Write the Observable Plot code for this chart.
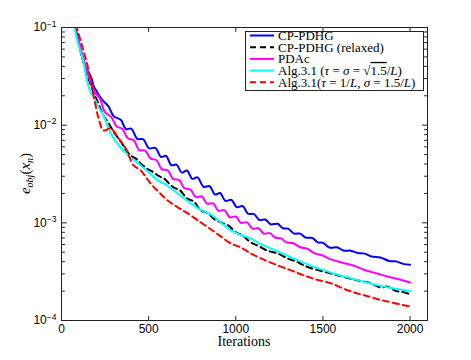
<!DOCTYPE html>
<html><head><meta charset="utf-8">
<script src="https://cdn.jsdelivr.net/npm/d3@7"></script>
<script src="https://cdn.jsdelivr.net/npm/@observablehq/plot@0.6"></script>
<style>html,body{margin:0;padding:0;background:#fff}</style>
</head><body><div id="chart"></div>
<script>
// ---- data (iteration, objective error) ----
const cpPdhg = [[60,0.14],[80,0.098],[100,0.070],[120,0.050],[135,0.040],[150,0.036],[170,0.031],[185,0.025],[200,0.0225],[230,0.0185],[270,0.0155],[300,0.0123],[340,0.01135],[370,0.00912],[400,0.00923],[435,0.00724],[470,0.00716],[500,0.00582],[540,0.00582],[570,0.00473],[600,0.00484],[630,0.00389],[660,0.00394],[690,0.00327],[720,0.00343],[750,0.00282],[780,0.00292],[815,0.00234],[850,0.00237],[880,0.00195],[910,0.00202],[940,0.00168],[975,0.00172],[1005,0.00145],[1040,0.00148],[1070,0.00124],[1105,0.00123],[1135,0.00107],[1170,0.00108],[1200,0.000966],[1240,0.000977],[1270,0.000881],[1300,0.000871],[1335,0.000776],[1370,0.000776],[1400,0.000708],[1440,0.0007],[1470,0.000631],[1500,0.000624],[1540,0.000556],[1580,0.000562],[1620,0.000519],[1660,0.000519],[1700,0.00049],[1740,0.000484],[1780,0.000452],[1830,0.000442],[1880,0.000407],[1920,0.000403],[1960,0.00038],[2000,0.000372]];
const cpPdhgRelaxed = [[60,0.15],[80,0.098],[92,0.077],[120,0.048],[149,0.0323],[184,0.0216],[210,0.017],[241,0.0126],[270,0.0105],[300,0.0085],[340,0.0068],[370,0.0056],[397,0.0049],[430,0.0045],[454,0.00405],[490,0.0036],[529,0.00328],[560,0.0030],[590,0.00283],[620,0.0025],[644,0.0023],[680,0.00215],[720,0.00178],[760,0.00165],[799,0.00134],[840,0.00125],[880,0.00108],[920,0.0010],[960,0.00093],[1000,0.0008],[1040,0.00074],[1086,0.00063],[1130,0.00058],[1180,0.00052],[1241,0.000486],[1300,0.00043],[1350,0.0004],[1391,0.000366],[1450,0.000336],[1500,0.000318],[1546,0.000303],[1600,0.000285],[1650,0.00027],[1701,0.000257],[1760,0.000245],[1833,0.000218],[1870,0.000222],[1920,0.0002],[1960,0.000196],[2000,0.000185]];
const pdac = [[60,0.14],[80,0.095],[100,0.070],[126,0.048],[150,0.034],[167,0.0274],[190,0.0219],[220,0.0188],[250,0.0135],[285,0.01216],[315,0.00977],[350,0.00912],[380,0.00733],[415,0.0070],[445,0.00556],[480,0.0055],[510,0.00457],[545,0.00437],[575,0.00355],[610,0.00343],[640,0.00282],[675,0.00275],[705,0.00226],[740,0.00219],[770,0.00184],[805,0.00186],[835,0.00157],[870,0.00158],[900,0.00133],[935,0.00135],[965,0.00114],[1000,0.00116],[1030,0.001],[1065,0.00101],[1095,0.000871],[1130,0.000881],[1160,0.000776],[1195,0.000785],[1225,0.000708],[1260,0.000692],[1290,0.000631],[1330,0.000617],[1370,0.000562],[1410,0.000543],[1450,0.00049],[1500,0.000462],[1546,0.000422],[1600,0.000394],[1661,0.000372],[1700,0.000351],[1736,0.000331],[1780,0.000313],[1833,0.000295],[1880,0.000279],[1940,0.000263],[2000,0.000245]];
const algSqrt = [[60,0.15],[80,0.0889],[100,0.064],[121,0.0482],[149,0.0274],[167,0.0216],[185,0.0195],[207,0.0159],[241,0.01256],[260,0.0103],[282,0.00822],[310,0.0069],[339,0.00591],[370,0.0052],[397,0.00467],[425,0.00425],[454,0.00387],[500,0.0033],[552,0.00272],[600,0.00245],[644,0.00215],[700,0.0018],[759,0.00151],[800,0.00135],[856,0.00122],[914,0.00101],[971,0.000836],[1030,0.00075],[1086,0.000692],[1140,0.00061],[1201,0.000547],[1280,0.000475],[1356,0.000412],[1430,0.000365],[1506,0.000326],[1580,0.000296],[1661,0.00027],[1740,0.000248],[1816,0.000229],[1900,0.000214],[2000,0.000199]];
const algInvL = [[60,0.17],[80,0.112],[109,0.0736],[149,0.0408],[184,0.0201],[213,0.0117],[241,0.00883],[282,0.00925],[328,0.00731],[368,0.00578],[414,0.00387],[454,0.00344],[511,0.00253],[560,0.00205],[609,0.00169],[665,0.00145],[724,0.00125],[799,0.00101],[860,0.00085],[914,0.000726],[971,0.000615],[1029,0.00056],[1086,0.000486],[1150,0.000427],[1241,0.000366],[1320,0.000324],[1391,0.00029],[1460,0.000263],[1546,0.00024],[1640,0.000204],[1736,0.000181],[1860,0.000158],[2000,0.000139]];

const seriesData = [cpPdhg, cpPdhgRelaxed, pdac, algSqrt, algInvL];
const seriesColors = ["#0000ff", "#000000", "#ff00ff", "#00ffff", "#ff0000"];
const seriesDash = [null, "6,4", null, null, "6,4"];
// legend labels as [text, style] pieces
const legendLabels = [
  [["CP-PDHG", false]],
  [["CP-PDHG (relaxed)", false]],
  [["PDAc", false]],
  [["Alg.3.1 (", false], ["τ", true], [" = ", false], ["σ", true], [" = √", false], ["1.5", "over"], ["/", false], ["L", true], [")", false]],
  [["Alg.3.1(", false], ["τ", true], [" = 1/", false], ["L", true], [", ", false], ["σ", true], [" = 1.5/", false], ["L", true], [")", false]]
];
const xTicks = [0, 500, 1000, 1500, 2000];
const xDomain = [0, 2100];
const yDomain = [1e-4, 1e-1];
const yMajor = [1e-4, 1e-3, 1e-2, 1e-1];
const yMinor = [];
for (const p of [1e-4, 1e-3, 1e-2]) for (let m = 2; m <= 9; m++) yMinor.push(m * p);

const W = 471, H = 360, ML = 61, MR = 44, MT = 27, MB = 40;
// legend box placement (pixels)
const lgX = 245, lgY = 31, lgW = 178, lgH = 59, rowH = 11.7, row0 = 35.5;

// inward tick shape for vector marks
const tickShape = {draw(ctx, l) { ctx.moveTo(0, 0); ctx.lineTo(0, -l); }};
const inTicks = (data, ch, anchor, rotate, len) => Plot.vector(data, {
  [ch]: (d) => d, frameAnchor: anchor, rotate, length: len, anchor: "start",
  shape: tickShape, stroke: "#222", strokeWidth: 1
});

const svgEl = Plot.plot({
  width: W, height: H,
  marginLeft: ML, marginRight: MR, marginTop: MT, marginBottom: MB,
  style: {background: "white", color: "black", fontFamily: "'Liberation Sans', Arial, sans-serif", fontSize: "12px"},
  x: {domain: xDomain},
  y: {type: "log", domain: yDomain},
  marks: [
    ...seriesData.map((d, i) => Plot.line(d, {
      x: (p) => p[0], y: (p) => p[1],
      stroke: seriesColors[i], strokeWidth: 2,
      strokeDasharray: seriesDash[i] || undefined,
      curve: "catmull-rom", clip: true
    })),
    Plot.frame({stroke: "#222"}),
    // legend box as an inset frame
    Plot.frame({
      stroke: "#222", fill: "white", strokeWidth: 1,
      insetLeft: lgX - ML, insetTop: lgY - MT,
      insetRight: (W - MR) - (lgX + lgW), insetBottom: (H - MB) - (lgY + lgH)
    }),
    Plot.axisX({ticks: xTicks, anchor: "bottom", tickSize: 0, tickPadding: 4, label: null, fontSize: 12,
      tickFormat: (d) => String(d)}),
    Plot.axisY({ticks: yMajor, anchor: "left", tickSize: 0, tickPadding: 5, label: null, fontSize: 12,
      tickFormat: (d) => String(Math.round(Math.log10(d)))}),
    inTicks(xTicks, "x", "bottom", 0, 4),
    inTicks(xTicks, "x", "top", 180, 4),
    inTicks(yMajor, "y", "left", 90, 5),
    inTicks(yMinor, "y", "left", 90, 3),
    inTicks(yMajor, "y", "right", -90, 5),
    inTicks(yMinor, "y", "right", -90, 3)
  ]
});
document.getElementById("chart").appendChild(svgEl);

const svg = d3.select(svgEl);
// superscript exponents on y tick labels
svg.selectAll('g[aria-label="y-axis tick label"] text').each(function () {
  const t = this.textContent.trim();
  if (!t) return;
  const n = Math.abs(parseInt(t, 10));
  const el = d3.select(this);
  el.text("10");
  el.append("tspan").attr("dy", "-0.55em").attr("font-size", "8.5px").text("−" + n);
});

// axis titles
const serif = "'Liberation Serif', 'DejaVu Serif', serif";
svg.append("text")
  .attr("x", ML + (W - ML - MR) / 2).attr("y", 346)
  .attr("text-anchor", "middle").attr("font-family", serif).attr("font-size", "14px")
  .attr("fill", "black")
  .text("Iterations");

const yl = svg.append("text")
  .attr("transform", `translate(30,${MT + (H - MT - MB) / 2}) rotate(-90)`)
  .attr("text-anchor", "middle").attr("font-family", serif).attr("font-size", "15px")
  .attr("fill", "black");
yl.append("tspan").attr("font-style", "italic").text("e");
yl.append("tspan").attr("font-style", "italic").attr("font-size", "10px").attr("dy", "3").text("obj");
yl.append("tspan").attr("dy", "-3").text("(");
yl.append("tspan").attr("font-style", "italic").text("x");
yl.append("tspan").attr("font-style", "italic").attr("font-size", "10px").attr("dy", "3").text("n");
yl.append("tspan").attr("dy", "-3").text(")");

// legend entries
const lg = svg.append("g");
legendLabels.forEach((pieces, i) => {
  const cy = row0 + i * rowH;
  lg.append("line").attr("x1", 250).attr("x2", 274).attr("y1", cy).attr("y2", cy)
    .attr("stroke", seriesColors[i]).attr("stroke-width", 2)
    .attr("stroke-dasharray", seriesDash[i] || null);
  const tx = lg.append("text").attr("x", 278).attr("y", cy + 4.3)
    .attr("text-anchor", "start")
    .attr("font-family", serif).attr("font-size", "13px").attr("fill", "black");
  pieces.forEach(([s, style]) => {
    const ts = tx.append("tspan").text(s);
    if (style === true) ts.attr("font-style", "italic");
    if (style === "over") ts.attr("text-decoration", "overline");
  });
});
</script>
</body></html>
